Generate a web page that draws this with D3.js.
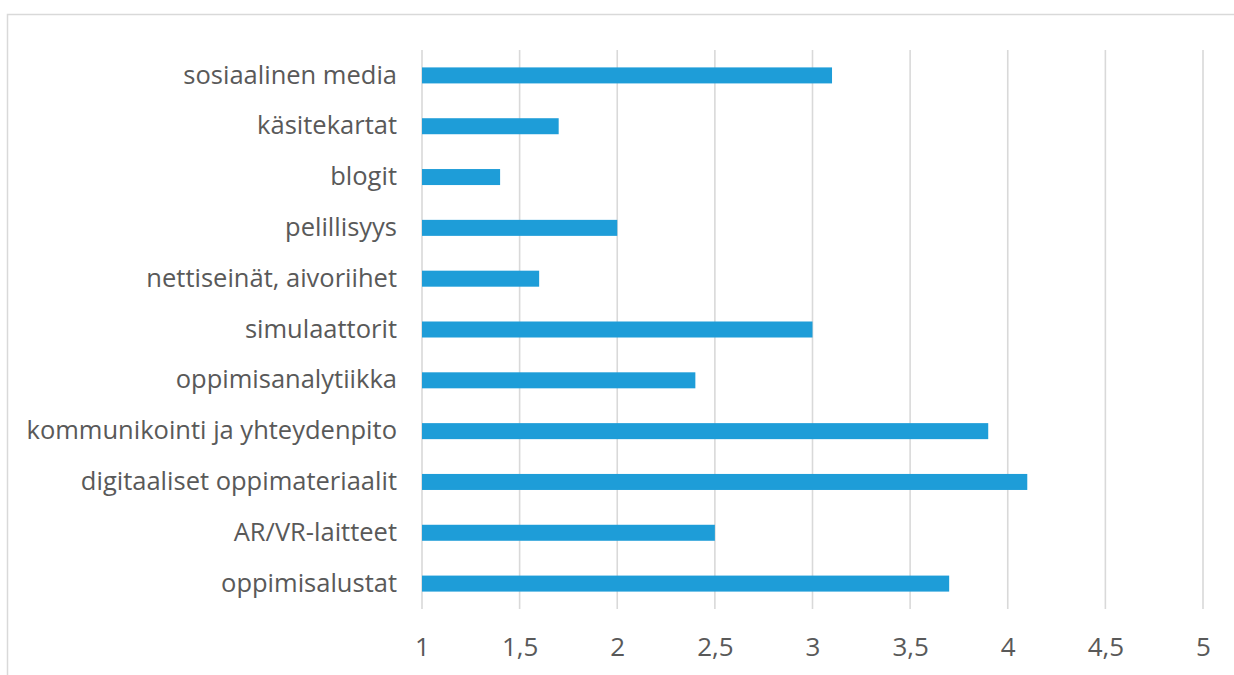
<!DOCTYPE html>
<html><head><meta charset="utf-8">
<script src="https://cdn.jsdelivr.net/npm/d3@7"></script>
<style>body{margin:0;background:#fff}svg{display:block}</style>
</head><body>
<script>
const categories = ["sosiaalinen media","käsitekartat","blogit","pelillisyys","nettiseinät, aivoriihet","simulaattorit","oppimisanalytiikka","kommunikointi ja yhteydenpito","digitaaliset oppimateriaalit","AR/VR-laitteet","oppimisalustat"];
const values = [3.1,1.7,1.4,2.0,1.6,3.0,2.4,3.9,4.1,2.5,3.7];
const tickValues = [1,1.5,2,2.5,3,3.5,4,4.5,5];
const tickLabels = ["1","1,5","2","2,5","3","3,5","4","4,5","5"];

const W=1234,H=675;
const svg=d3.select("body").append("svg").attr("width",W).attr("height",H);
svg.append("rect").attr("x",7.5).attr("y",14.5).attr("width",1240).attr("height",700).attr("fill","#fff").attr("stroke","#d9d9d9").attr("stroke-width",1.5);

const x=d3.scaleLinear().domain([1,5]).range([422,1203]);
const y=d3.scaleBand().domain(categories).range([50,609]).paddingInner(0.685).paddingOuter(0.3425);
const font="'Open Sans', Calibri, sans-serif";

svg.append("g").selectAll("line").data(tickValues).join("line")
  .attr("x1",d=>x(d)).attr("x2",d=>x(d)).attr("y1",50).attr("y2",609)
  .attr("stroke","#d9d9d9").attr("stroke-width",1.6);

svg.append("g").selectAll("rect").data(values).join("rect")
  .attr("x",x(1)).attr("y",(d,i)=>y(categories[i]))
  .attr("width",d=>x(d)-x(1)).attr("height",y.bandwidth()).attr("fill","#1e9dd8");

const xa=d3.axisBottom(x).tickValues(tickValues).tickFormat((d,i)=>tickLabels[i]).tickSize(0).tickPadding(0);
const gx=svg.append("g").attr("transform","translate(0,609)").call(xa);
gx.select(".domain").remove();
gx.selectAll("text").attr("y",29).attr("dy","0.71em").attr("font-family",font).attr("font-size",26).attr("fill","#595959");

const ya=d3.axisLeft(y).tickSize(0).tickPadding(0);
const gy=svg.append("g").attr("transform","translate(397,0)").call(ya);
gy.select(".domain").remove();
gy.selectAll("text").attr("font-family",font).attr("font-size",25.5).attr("fill","#595959");
</script>
</body></html>
